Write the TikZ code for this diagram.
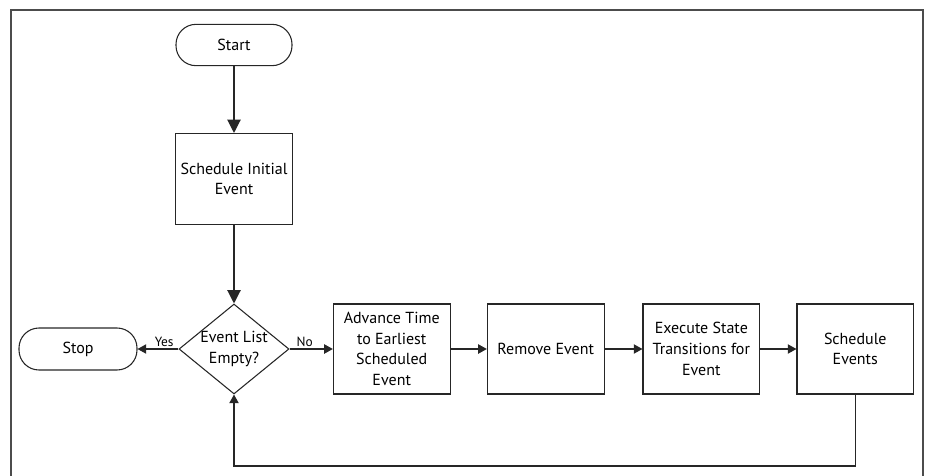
\documentclass[tikz,border=0pt]{standalone}
\usepackage{fontspec}
\setmainfont{PT Sans}
\usetikzlibrary{shapes.geometric,arrows.meta}
\begin{document}
\begin{tikzpicture}[x=0.75pt,y=-0.75pt,
  every node/.style={font=\fontsize{12}{15.5}\selectfont, align=center, text=black},
  procbox/.style={draw=black!85, line width=0.8pt, rectangle, minimum width=87.5pt, minimum height=67.5pt, inner sep=1pt},
  termbox/.style={draw=black!85, line width=0.8pt, rectangle, rounded corners=15pt, minimum width=87pt, minimum height=31pt},
  decbox/.style={draw=black!85, line width=0.8pt, diamond, minimum width=82.5pt, minimum height=67.5pt, inner sep=0pt},
  conn/.style={draw=black!85, line width=0.9pt},
  bigarrow/.style={conn, -{Triangle[length=10pt,width=10pt]}},
  smallarrow/.style={conn, -{Triangle[length=6.5pt,width=7pt]}},
  edgelbl/.style={font=\fontsize{10}{10}\selectfont, inner sep=1pt},
  framestyle/.style={draw=black!70, line width=0.9pt}
]
\useasboundingbox (0,0) rectangle (930,475);
\draw[framestyle] (11,476) -- (11,10) -- (923,10) -- (923,476);

\node[termbox] (start) at (234,45) {Start};
\node[procbox, minimum height=68.25pt] (sie) at (234,179) {Schedule Initial\\Event};
\node[decbox] (dec) at (234,349) {};
\node (dectext) at (234,349) {Event List\\Empty?};
\node[termbox, minimum width=88.5pt, minimum height=31.5pt] (stop) at (78,349) {Stop};
\node[procbox] (adv) at (391.7,349) {Advance Time\\to Earliest\\Scheduled\\Event};
\node[procbox] (rem) at (545.7,349) {Remove Event};
\node[procbox] (exe) at (701.3,349) {Execute State\\Transitions for\\Event};
\node[procbox] (sev) at (855.3,349) {Schedule\\Events};
\coordinate (loopcorner) at (855.3,466);

\draw[bigarrow] (start) -- (sie);
\draw[bigarrow] (sie) -- (dec.north);
\draw[smallarrow] (dec.west) -- node[edgelbl, above, pos=0.35] {Yes} (stop);
\draw[smallarrow] (dec.east) -- node[edgelbl, above, pos=0.35] {No} (adv);
\draw[smallarrow] (adv) -- (rem);
\draw[smallarrow] (rem) -- (exe);
\draw[smallarrow] (exe) -- (sev);
\draw[smallarrow] (sev.south) -- (loopcorner) -| (dec.south);
\end{tikzpicture}
\end{document}
